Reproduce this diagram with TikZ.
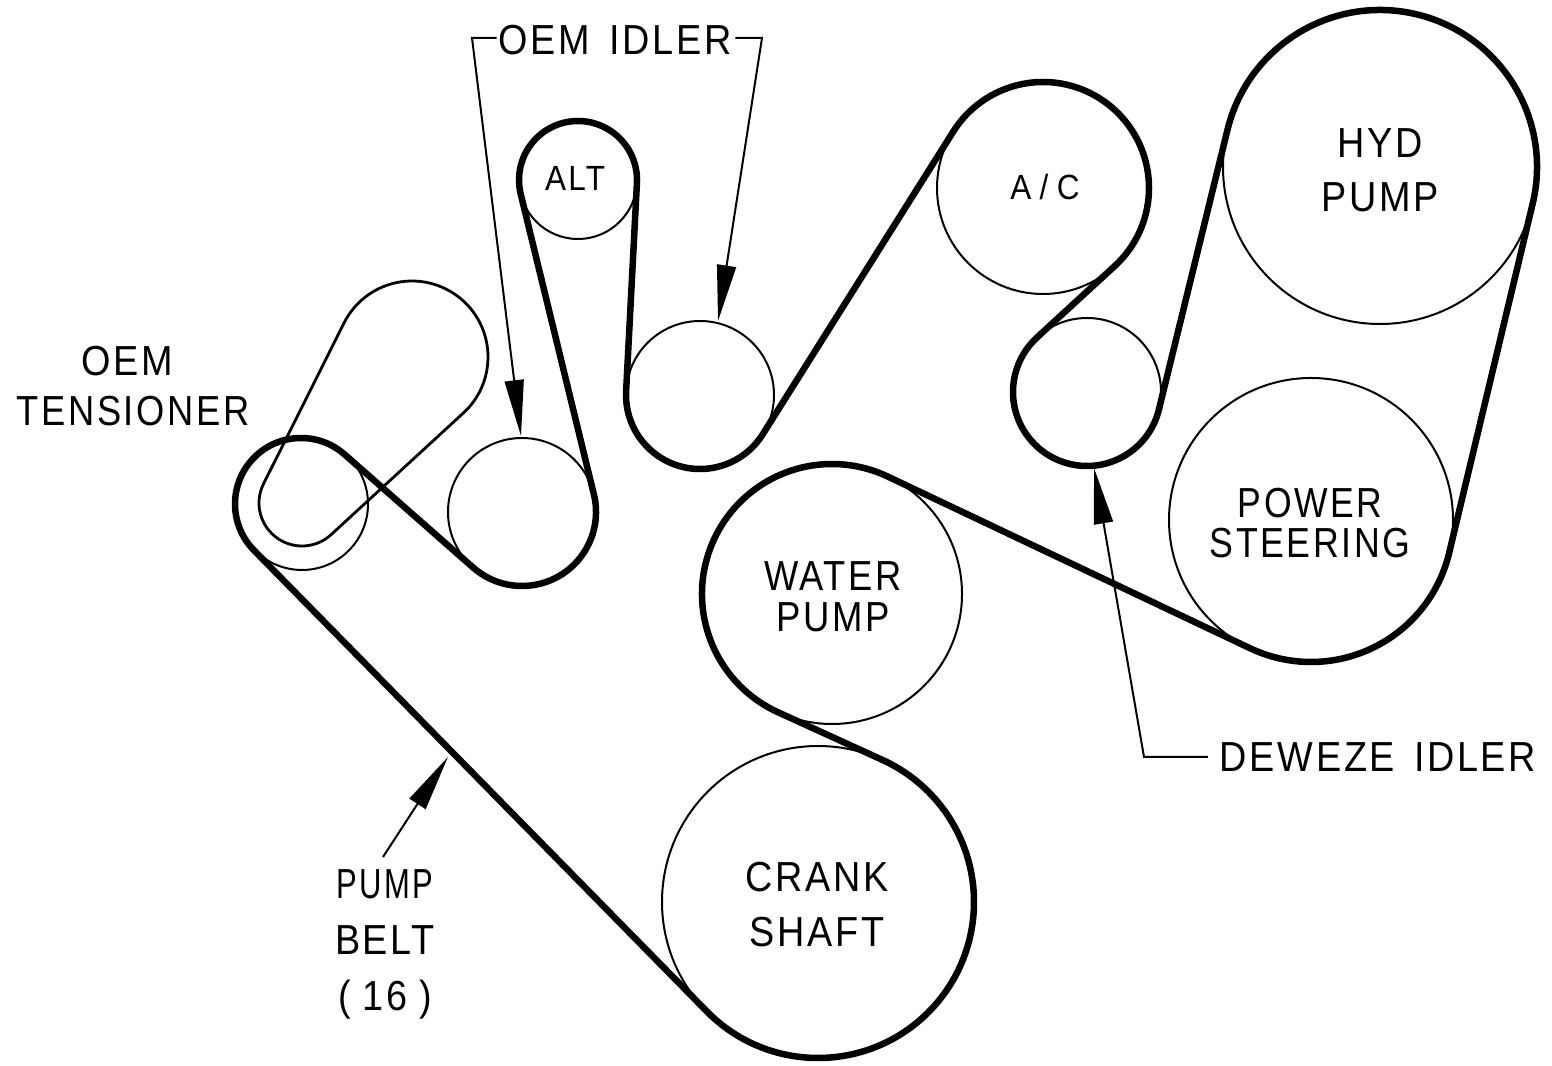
\documentclass[tikz,border=0pt]{standalone}
\usepackage{fontspec}
\setmainfont[FakeStretch=0.9,LetterSpace=6.5]{Liberation Sans}
\usetikzlibrary{arrows.meta}
\newcommand\Pdef[4]{\expandafter\gdef\csname X#1\endcsname{#2}\expandafter\gdef\csname Y#1\endcsname{#3}\expandafter\gdef\csname S#1\endcsname{#4}}
\newcommand\Cs[1]{\csname #1\endcsname}
\newcommand\Tan[2]{%
 \pgfmathsetmacro\tdx{(\Cs{X#2}-\Cs{X#1})/100}%
 \pgfmathsetmacro\tdy{(\Cs{Y#2}-\Cs{Y#1})/100}%
 \pgfmathsetmacro\tL{sqrt(\tdx*\tdx+\tdy*\tdy)}%
 \pgfmathsetmacro\tb{atan2(\tdy,\tdx)}%
 \pgfmathsetmacro\tn{\tb-acos(((\Cs{S#1})-(\Cs{S#2}))/100/\tL)}%
 \pgfmathsetmacro\ta{(\Cs{S#1})>0?\tn:\tn+180}%
 \expandafter\xdef\csname O#1\endcsname{\ta}%
 \pgfmathsetmacro\ta{(\Cs{S#2})>0?\tn:\tn+180}%
 \expandafter\xdef\csname I#2\endcsname{\ta}}
\newcommand\Fin[1]{%
 \pgfmathsetmacro\ta{(\Cs{S#1})>0?(\Cs{I#1})+Mod((\Cs{O#1})-(\Cs{I#1}),360):(\Cs{I#1})-Mod((\Cs{I#1})-(\Cs{O#1}),360)}%
 \expandafter\xdef\csname E#1\endcsname{\ta}%
 \pgfmathsetmacro\ta{abs(\Cs{S#1})}%
 \expandafter\xdef\csname R#1\endcsname{\ta}}
\newcommand\Wrap[1]{({\Cs{X#1}+\Cs{R#1}*cos(\Cs{I#1})},{\Cs{Y#1}+\Cs{R#1}*sin(\Cs{I#1})}) arc[start angle=\Cs{I#1},end angle=\Cs{E#1},radius=\Cs{R#1}pt]}
% belt pulleys: x, y (from the bottom), signed radius (+ = wrapped counterclockwise)
\Pdef{Crank}{818}{163}{156}
\Pdef{WP}{832}{471}{-130}
\Pdef{PS}{1311}{545}{142}
\Pdef{Hyd}{1380}{898}{157}
\Pdef{Dew}{1087}{673}{-74}
\Pdef{AC}{1043}{877}{106}
\Pdef{IB}{700}{670}{-74}
\Pdef{Alt}{578}{885}{59}
\Pdef{IA}{522}{553}{-74}
\Pdef{Ten}{301}{561}{66}
\Pdef{ArmB}{412}{708}{76}
\Pdef{ArmS}{302}{562}{43}
\Tan{Crank}{WP}\Tan{WP}{PS}\Tan{PS}{Hyd}\Tan{Hyd}{Dew}\Tan{Dew}{AC}
\Tan{AC}{IB}\Tan{IB}{Alt}\Tan{Alt}{IA}\Tan{IA}{Ten}\Tan{Ten}{Crank}
\Tan{ArmB}{ArmS}\Tan{ArmS}{ArmB}
\Fin{Crank}\Fin{WP}\Fin{PS}\Fin{Hyd}\Fin{Dew}\Fin{AC}\Fin{IB}\Fin{Alt}\Fin{IA}\Fin{Ten}\Fin{ArmB}\Fin{ArmS}
\tikzset{
 pulley/.style={circle,draw=black,line width=2pt,inner sep=0pt,outer sep=0pt},
 beltline/.style={draw=black,line width=6.5pt,line join=round},
 armline/.style={draw=black,line width=2.8pt,line join=round},
 lead/.style={draw=black,line width=2pt,line join=miter},
 tipped/.style={lead,-{Triangle[length=56pt,width=19pt]}},
 lab/.style={inner sep=0pt,outer sep=0pt,align=center,text=black,font=\fontsize{42}{#1}\selectfont},
 lab/.default=50,
 small/.style={inner sep=0pt,outer sep=0pt,align=center,text=black,font=\fontsize{35}{40}\selectfont}
}
\begin{document}
\begin{tikzpicture}[x=1pt,y=1pt]
\useasboundingbox (0,0) rectangle (1552,1065);
\fill[white] (0,0) rectangle (1552,1065);
% pulleys
\node[pulley,minimum size=312pt] (crank) at (818,163) {};
\node[pulley,minimum size=260pt] (water) at (832,471) {};
\node[pulley,minimum size=284pt] (steer) at (1311,545) {};
\node[pulley,minimum size=314pt] (hyd) at (1380,898) {};
\node[pulley,minimum size=148pt] (dew) at (1087,673) {};
\node[pulley,minimum size=212pt] (ac) at (1043,877) {};
\node[pulley,minimum size=148pt] (idlerb) at (700,670) {};
\node[pulley,minimum size=118pt] (alt) at (578,885) {};
\node[pulley,minimum size=148pt] (idlera) at (522,553) {};
\node[pulley,minimum size=132pt] (ten) at (302,561) {};
% tensioner arm
\draw[armline] \Wrap{ArmB} -- \Wrap{ArmS} -- cycle;
% belt
\draw[beltline] \Wrap{Crank} -- \Wrap{WP} -- \Wrap{PS} -- \Wrap{Hyd} -- \Wrap{Dew} -- \Wrap{AC} -- \Wrap{IB} -- \Wrap{Alt} -- \Wrap{IA} -- \Wrap{Ten} -- cycle;
% labels
\node[lab=54] (thyd) at (1380,895) {HYD\\PUMP};
\node[lab=40] (tsteer) at (1310,542) {\scalebox{0.94}[1]{POWER}\\\scalebox{0.945}[1]{STEERING}};
\node[lab=41] (twater) at (833,468) {\scalebox{0.96}[1]{WATER}\\\scalebox{0.965}[1]{PUMP}};
\node[lab=55] (tcrank) at (817,160) {CRANK\\SHAFT};
\node[small] (talt) at (575,887) {ALT};
\node[small] (tac) at (1045,878) {A\hspace{.24em}/\hspace{.24em}C};
\node[lab=50] (tten) at (133,679) {\mbox{OEM\hspace*{12pt}}\\\scalebox{0.96}[1]{TENSIONER}};
\node[lab=56] (tbelt) at (385,121) {\scalebox{0.82}[1]{PUMP}\\BELT\\(\hspace{.28em}16\hspace{.28em})};
\node[lab=50,anchor=center] (toem) at (615,1025) {OEM\hspace{.45em}IDLER};
\node[lab=50,anchor=center] (tdew) at (1378,308) {DEWEZE\hspace{.45em}IDLER};
% leaders
\coordinate (oemL) at (472,1027);
\coordinate (oemR) at (762,1027);
\coordinate (dewC) at (1144,308);
\coordinate (tipA) at (521,629);
\coordinate (tipB) at (718,744);
\coordinate (tipD) at (1094,597);
\coordinate (tipP) at (448,308);
\coordinate (tailP) at (383,208);
\draw[tipped] ([xshift=-2pt,yshift=2pt]toem.west) -- (oemL) -- (tipA);
\draw[tipped] ([xshift=4pt,yshift=2pt]toem.east) -- (oemR) -- (tipB);
\draw[tipped] ([xshift=-12pt]tdew.west) -- (dewC) -- (tipD);
\draw[tipped] (tailP) -- (tipP);
\end{tikzpicture}
\end{document}
